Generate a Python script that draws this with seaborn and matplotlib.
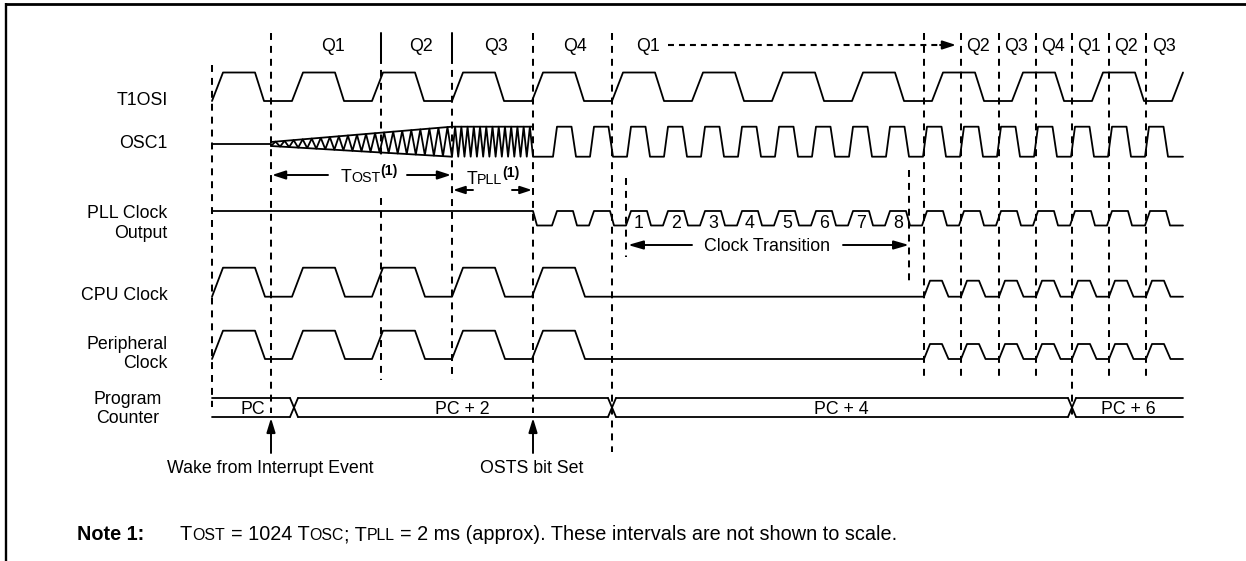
import numpy as np
import pandas as pd
import matplotlib
matplotlib.use("Agg")
import matplotlib.pyplot as plt
import seaborn as sns

# ---------------- chart values (time axis in figure pixels) ----------------
Q_LABELS = ["Q1", "Q2", "Q3", "Q4", "Q1", "Q2", "Q3", "Q4", "Q1", "Q2", "Q3"]
Q_CENTERS = [333, 421, 496, 575, 648, 978, 1016, 1053, 1089, 1126, 1164]

SIGNAL_LABELS = ["T1OSI", "OSC1", "PLL Clock\nOutput", "CPU Clock", "Peripheral\nClock", "Program\nCounter"]

T_START = 212
T_END = 1183
T1OSI_RISES = [212, 292, 372, 452, 532, 612, 692, 772, 852, 932, 1012, 1092, 1172]
CPU_SLOW_RISES = [212, 292, 372, 452, 532]
CPU_FAST_RISES = [924, 961, 999, 1036, 1072, 1109, 1146]
PLL_RISES = [552, 589, 626, 663, 700, 737, 774, 811, 848, 885, 922, 959, 996, 1033, 1070, 1107, 1145]
OSC1_RISES = [553, 590, 627, 664, 701, 738, 775, 812, 849, 886, 923, 960, 997, 1034, 1071, 1108, 1145]
PLL_COUNT_LABELS = ["1", "2", "3", "4", "5", "6", "7", "8"]
PLL_COUNT_FIRST = 2

OSC1_WAKE = 271
OST_END = 452
PLL_START = 533
OSC1_STARTUP_TEETH = 20
OSC1_LOCK_TEETH = 13

PC_LABELS = ["PC", "PC + 2", "PC + 4", "PC + 6"]
PC_EDGES = [212, 294, 612, 1072, 1183]
PC_LABEL_X = [253, 462, 841, 1128]

EVENTS = ["Wake from Interrupt Event", "OSTS bit Set"]
EVENT_X = [271, 533]
EVENT_LABEL_X = [270, 532]

DIVIDERS_X = [212, 271, 381, 452, 533, 612, 626, 909, 924, 961, 999, 1036, 1072, 1109, 1146]
CLOCK_TRANSITION = (626, 909)
TOST_SPAN = (271, 452)
TPLL_SPAN = (452, 533)

# ---------------- layout ----------------
W, H = 1246, 561
FS = 12.8           # pt (about 17.8 px)
PX = 100 / 72.0
sns.set_theme(style="white")
plt.rcParams['font.family'] = ['Liberation Sans', 'DejaVu Sans']
plt.rcParams['lines.scale_dashes'] = False

fig = plt.figure(figsize=(W / 100, H / 100), dpi=100)
ax = fig.add_axes([0, 0, 1, 1])
renderer = fig.canvas.get_renderer()

# row levels (y, pixels from top)
Y_T1_HI, Y_T1_LO = 72.5, 101
Y_OSC_HI, Y_OSC_LO, Y_OSC_IDLE = 126.7, 156.7, 144
Y_PLL_HI, Y_PLL_LO = 211, 225.5
Y_CPU_HI, Y_CPU_HI2, Y_CPU_LO = 267.7, 280.7, 296.7
Y_PER_HI, Y_PER_HI2, Y_PER_LO = 330.7, 344, 359
Y_BUS_T, Y_BUS_B = 398, 417


def train(rises, lo, hi, shape):
    tr, th, tf = shape
    pts = []
    for r in rises:
        pts += [(r, lo), (r + tr, hi), (r + tr + th, hi), (r + tr + th + tf, lo)]
    return pts


def clip(pts, end):
    out = []
    for x, y in pts:
        if x <= end:
            out.append((x, y))
        else:
            x0, y0 = out[-1]
            if x0 < end:
                out.append((end, y0 + (y - y0) * (end - x0) / (x - x0)))
            return out
    if out[-1][0] < end:
        out.append((end, out[-1][1]))
    return out


def zigzag(x0, x1, top0, top1, bot0, bot1, n):
    xs = np.linspace(x0, x1, 2 * n + 1)
    t = (xs - x0) / (x1 - x0)
    top = top0 + (top1 - top0) * t
    bot = bot0 + (bot1 - bot0) * t
    ys = np.where(np.arange(2 * n + 1) % 2 == 0, bot, top)
    return list(zip(xs, ys))


segments = {}
segments["t1osi"] = clip(train(T1OSI_RISES, Y_T1_LO, Y_T1_HI, (11, 32, 9)), T_END)

osc = [(T_START, Y_OSC_IDLE), (OSC1_WAKE, Y_OSC_IDLE)]
osc += zigzag(OSC1_WAKE, OST_END, 142, Y_OSC_HI, 146, Y_OSC_LO, OSC1_STARTUP_TEETH)
osc += zigzag(OST_END, PLL_START, Y_OSC_HI, Y_OSC_HI, Y_OSC_LO, Y_OSC_LO, OSC1_LOCK_TEETH)[1:]
osc += train(OSC1_RISES, Y_OSC_LO, Y_OSC_HI, (4, 14.5, 4.5))
segments["osc1"] = clip(osc, T_END)
segments["osc_env_top"] = [(OSC1_WAKE, 142), (OST_END, Y_OSC_HI), (PLL_START, Y_OSC_HI)]
segments["osc_env_bot"] = [(OSC1_WAKE, 146), (OST_END, Y_OSC_LO)]

pll = [(T_START, Y_PLL_HI), (PLL_START, Y_PLL_HI), (PLL_START + 4, Y_PLL_LO)]
pll += train(PLL_RISES, Y_PLL_LO, Y_PLL_HI, (5, 16, 4))
segments["pll"] = clip(pll, T_END)

cpu = train(CPU_SLOW_RISES, Y_CPU_LO, Y_CPU_HI, (11, 32, 10))
cpu += train(CPU_FAST_RISES, Y_CPU_LO, Y_CPU_HI2, (6, 12, 6.5))
segments["cpu"] = clip(cpu, T_END)

per = train(CPU_SLOW_RISES, Y_PER_LO, Y_PER_HI, (11, 32, 10))
per += train(CPU_FAST_RISES, Y_PER_LO, Y_PER_HI2, (6, 12, 6.5))
segments["per"] = clip(per, T_END)

# program counter bus
HALF = 4
for i in range(len(PC_LABELS)):
    a = PC_EDGES[i] + (HALF if i > 0 else 0)
    b = PC_EDGES[i + 1] - (HALF if i < len(PC_LABELS) - 1 else 0)
    segments[f"bus_t{i}"] = [(a, Y_BUS_T), (b, Y_BUS_T)]
    segments[f"bus_b{i}"] = [(a, Y_BUS_B), (b, Y_BUS_B)]
for e in PC_EDGES[1:-1]:
    segments[f"x1_{e}"] = [(e - HALF, Y_BUS_T), (e + HALF, Y_BUS_B)]
    segments[f"x2_{e}"] = [(e - HALF, Y_BUS_B), (e + HALF, Y_BUS_T)]

rows = []
for k, pts in segments.items():
    for x, y in pts:
        rows.append({"x": x, "y": y, "seg": k})
df = pd.DataFrame(rows)
sns.lineplot(data=df, x="x", y="y", units="seg", estimator=None, sort=False,
             color="black", linewidth=1.3, ax=ax, legend=False)

# ---------------- dividers ----------------
spans = {212: [(65, 407)], 271: [(33, 413)], 381: [(57, 160), (198, 380)], 452: [(57, 380)],
         533: [(33, 413)], 612: [(33, 452)], 626: [(178, 257)], 909: [(170, 284)],
         1072: [(33, 418)]}
for x in DIVIDERS_X:
    for y0, y1 in spans.get(x, [(33, 378)]):
        ax.plot([x, x], [y0, y1], color="black", lw=1.45, dashes=(5.0, 4.3), solid_capstyle="butt")
for x in (381, 452):
    ax.plot([x, x], [33, 57], color="black", lw=1.45)

# frame
ax.plot([5, W], [4, 4], color="black", lw=2.0, solid_capstyle="butt")
ax.plot([5.5, 5.5], [3, H], color="black", lw=1.7, solid_capstyle="butt")


# ---------------- text helpers ----------------
def rich(x, y, parts, ha="left"):
    items, total = [], 0.0
    for s, size, weight, rise in parts:
        lead = len(s) - len(s.lstrip(" "))
        trail = len(s) - len(s.rstrip(" "))
        core = s.strip(" ")
        sp = 0.278 * size * PX
        total += lead * sp
        t = ax.text(0, 0, core, fontsize=size, fontweight=weight, va="baseline", ha="left", color="black")
        w = t.get_window_extent(renderer).width if core else 0
        items.append((t, total, rise))
        total += w + trail * sp
    x0 = x - total / 2 if ha == "center" else (x - total if ha == "right" else x)
    for t, off, rise in items:
        t.set_position((x0 + off, y - rise))


def label(x, yc, s, ha="center", size=FS, weight="normal"):
    ax.text(x, yc + 0.358 * size * PX, s, fontsize=size, fontweight=weight,
            ha=ha, va="baseline", color="black")


def arrow(tail, tip, hl=8.0, hw=2.6, lw=1.4):
    ax.annotate("", xy=tip, xytext=tail,
                arrowprops=dict(arrowstyle=f"-|>,head_length={hl},head_width={hw}",
                                mutation_scale=1, lw=lw, color="black", shrinkA=0, shrinkB=0))


for q, x in zip(Q_LABELS, Q_CENTERS):
    label(x, 45, q)
ax.plot([668, 944], [45, 45], color="black", lw=1.5, dashes=(4.3, 3.6))
arrow((940, 45), (956, 45))

LABEL_RIGHT = 167.5
label(LABEL_RIGHT, 99, SIGNAL_LABELS[0], ha="right")
label(LABEL_RIGHT, 142, SIGNAL_LABELS[1], ha="right")
for j, line in enumerate(SIGNAL_LABELS[2].split("\n")):
    label(LABEL_RIGHT, 212 + 19.5 * j, line, ha="right")
label(LABEL_RIGHT, 294, SIGNAL_LABELS[3], ha="right")
for j, line in enumerate(SIGNAL_LABELS[4].split("\n")):
    label(LABEL_RIGHT, 343 + 18.5 * j, line, ha="right")
for j, line in enumerate(SIGNAL_LABELS[5].split("\n")):
    label(128, 398 + 19 * j, line, ha="center")

SMALL = FS * 0.8
# TOST
arrow((328, 175), (TOST_SPAN[0] + 1, 175))
arrow((407, 175), (TOST_SPAN[1] - 1, 175))
rich(369, 181.5, [("T", FS, "normal", 0), ("OST", SMALL, "normal", 0), ("(1)", SMALL, "bold", 7)], ha="center")
# TPLL
arrow((473, 190), (TPLL_SPAN[0] + 1, 190), hl=7.0, hw=2.3)
arrow((512, 190), (TPLL_SPAN[1] - 1, 190), hl=7.0, hw=2.3)
rich(493, 184, [("T", FS, "normal", 0), ("PLL", SMALL, "normal", 0), ("(1)", SMALL, "bold", 7)], ha="center")

# PLL count digits
for j, d in enumerate(PLL_COUNT_LABELS):
    r = PLL_RISES[PLL_COUNT_FIRST + j]
    ax.text(r + 13, 228, d, fontsize=FS, ha="center", va="baseline", color="black")

# clock transition
arrow((692, 245), (CLOCK_TRANSITION[0] + 2, 245), hl=9.0, hw=2.6)
arrow((843, 245), (CLOCK_TRANSITION[1], 245), hl=9.0, hw=2.6)
label(767, 245, "Clock Transition")

# bus labels
for s, x in zip(PC_LABELS, PC_LABEL_X):
    label(x, 408, s)

# events
for s, x, lx in zip(EVENTS, EVENT_X, EVENT_LABEL_X):
    arrow((x, 453), (x, Y_BUS_B + 1), hl=8.5, hw=2.6)
    label(lx, 467, s)

# note
NFS = 14.3
ny = 533 + 0.358 * NFS * PX
ax.text(77, ny, "Note 1:", fontsize=NFS, fontweight="bold", va="baseline", ha="left", color="black")
NS = NFS * 0.8
rich(180, ny, [("T", NFS, "normal", 0), ("OST", NS, "normal", 0), (" = 1024 T", NFS, "normal", 0),
               ("OSC", NS, "normal", 0), ("; T", NFS, "normal", 0), ("PLL", NS, "normal", 0),
               (" = 2 ms (approx). These intervals are not shown to scale.", NFS, "normal", 0)])

ax.set_xlim(0, W)
ax.set_ylim(H, 0)
ax.axis("off")
fig.savefig("out.png", dpi=100, facecolor="white")
